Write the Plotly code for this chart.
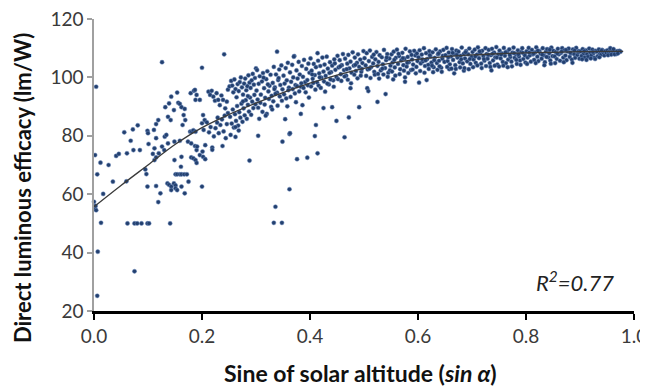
import plotly.graph_objects as go

# ---- measured points (sin alpha, direct luminous efficacy lm/W) ----
left_x = [0.000,0.002,0.004,0.003,0.004,0.002,0.006,0.012,0.013,0.007,0.006,0.017,0.027,0.035,0.041,0.046,0.056,0.061,0.060,0.062,
          0.068,0.072,0.073,0.075,0.075,0.080,0.081,0.085,0.088,0.095,0.097,0.099,0.099,0.099,0.100,0.101,0.102,0.109,0.111,0.112,
          0.112,0.115,0.115,0.115,0.115,0.119,0.119,0.120,0.123,0.126,0.126,0.130,0.131,0.132,0.134,0.136,0.137,0.137,0.139,0.139,
          0.141,0.142,0.143,0.143,0.143,0.148,0.148,0.149,0.149,0.151,0.151,0.151,0.154,0.154,0.154,0.156,0.159,0.159,0.159,0.161,
          0.162,0.162,0.162,0.162,0.164,0.166,0.167,0.168,0.168,0.169,0.172,0.174,0.175,0.178,0.179,0.180,0.180,0.181,0.184,0.184,
          0.185,0.187,0.187,0.188,0.188,0.188,0.190,0.190,0.190,0.191,0.196,0.196,0.200,0.200,0.200]
left_y = [57.4,55.0,54.5,56.0,96.8,73.4,66.8,70.8,50.2,40.3,25.2,60.1,70.0,64.3,73.1,73.8,81.2,74.0,64.4,50.0,
          78.3,82.2,75.1,50.0,33.6,50.0,83.6,75.1,50.0,68.5,66.9,62.6,50.0,81.7,80.9,77.2,50.0,73.8,82.0,75.7,
          71.7,72.6,84.0,79.2,62.8,85.4,57.3,74.0,60.3,105.2,76.3,75.1,79.7,89.8,80.3,63.7,86.5,77.4,91.1,63.2,
          50.0,85.4,93.4,62.6,61.4,88.8,63.7,78.0,71.7,66.8,63.0,62.0,94.8,66.8,61.4,91.3,90.9,78.3,66.8,69.4,
          89.8,72.8,66.8,62.6,83.7,87.1,66.8,89.2,60.3,85.4,66.8,78.0,64.3,81.4,94.6,77.4,72.6,81.4,81.9,72.3,
          95.4,76.5,95.7,92.3,81.4,71.7,94.0,75.1,70.7,76.3,73.4,92.3,103.3,62.6,84.3]

mid_x = [0.202,0.205,0.209,0.203,0.206,0.201,0.202,0.206,0.212,0.215,0.218,0.221,0.224,0.227,0.230,0.233,0.236,0.239,0.243,0.246,
         0.248,0.213,0.216,0.219,0.222,0.225,0.228,0.231,0.234,0.237,0.238,0.240,0.242,0.244,0.246,0.248,0.241,0.219,0.229,
         0.251,0.254,0.256,0.258,0.260,0.262,0.264,0.266,0.268,0.270,0.272,0.274,0.276,0.278,0.280,0.282,0.284,0.286,0.288,0.290,
         0.292,0.294,0.296,0.298,0.252,0.255,0.257,0.259,0.261,0.263,0.265,0.267,0.269,0.271,0.273,0.275,0.277,0.279,0.281,0.283,
         0.285,0.287,0.289,0.291,0.293,0.295,0.297,0.299,0.253,0.262,0.268,0.288,0.262,0.276,0.285,
         0.300,0.302,0.304,0.301,0.303,0.305,0.307,0.309,0.311,0.313,0.315,0.317,0.319,0.321,0.323,0.325,0.327,0.329,0.331,0.333,
         0.335,0.337,0.339,0.341,0.343,0.345,0.347,0.349,0.304,0.308,0.312,0.316,0.320,0.324,0.328,0.332,0.336,0.340,0.344,0.348,
         0.306,0.318,0.330,0.339,0.336,0.333,0.348,0.349,0.342,0.334,0.322,0.314,
         0.351,0.353,0.355,0.357,0.359,0.361,0.363,0.365,0.367,0.369,0.371,0.370,0.373,0.375,0.377,0.379,0.381,0.383,0.385,0.387,
         0.389,0.391,0.393,0.395,0.397,0.399,0.352,0.356,0.360,0.364,0.368,0.372,0.376,0.380,0.384,0.388,0.392,0.396,0.362,0.354,
         0.362,0.376,0.395,0.386,0.383,0.363,0.358,0.374,0.398]
mid_y = [87.1,85.4,84.6,82.0,76.8,74.6,72.8,72.0,95.1,94.0,95.4,93.4,92.0,94.6,92.3,90.5,93.8,92.3,89.4,91.7,
         95.8,81.2,83.0,76.0,79.8,82.6,84.5,80.9,83.7,85.6,76.5,81.5,86.9,79.2,84.0,87.8,107.9,75.2,86.2,
         96.9,98.8,97.2,94.9,99.3,96.0,93.2,97.7,95.3,98.4,100.0,96.6,94.1,97.9,99.6,95.6,97.0,100.7,98.2,96.4,
         99.0,101.2,97.5,99.8,86.5,84.2,89.0,82.8,87.4,85.1,90.2,83.5,88.1,86.2,91.0,84.8,89.4,87.0,92.2,85.8,
         90.6,88.3,93.1,87.2,91.7,89.5,94.0,90.8,80.3,79.6,81.8,71.5,83.0,91.8,93.6,
         103.1,102.5,80.0,95.5,92.4,97.8,100.4,94.1,98.6,101.5,96.3,93.0,99.4,102.1,95.2,97.1,100.9,93.7,98.1,103.6,
         96.6,101.0,94.8,99.1,102.7,97.4,104.1,95.9,89.6,91.3,88.2,90.7,87.5,92.6,89.9,91.8,94.4,90.3,93.5,92.0,
         85.8,86.9,89.0,108.8,55.7,50.2,50.2,78.0,99.8,96.0,97.6,99.9,
         100.6,97.9,103.2,99.0,105.0,96.5,101.7,98.5,104.3,100.0,107.3,107.1,97.4,102.4,99.6,105.3,101.0,96.8,103.9,100.2,
         106.0,98.4,102.9,99.1,104.7,101.6,94.2,92.8,95.6,93.3,96.0,94.5,97.0,95.2,98.0,96.4,94.9,97.3,80.6,85.7,
         61.7,72.0,72.5,90.5,87.5,80.9,90.1,91.5,93.1]

upper_x = [0.401,0.403,0.405,0.407,0.409,0.411,0.413,0.414,0.415,0.417,0.419,0.421,0.423,0.425,0.427,0.429,0.431,0.433,0.435,0.437,
           0.439,0.441,0.443,0.445,0.447,0.449,0.402,0.406,0.410,0.416,0.420,0.426,0.432,0.438,0.444,0.411,0.409,0.414,0.425,0.441,
           0.449,0.428,0.404,0.418,0.436,0.446,
           0.451,0.453,0.455,0.457,0.459,0.461,0.463,0.465,0.467,0.469,0.471,0.473,0.475,0.477,0.479,0.481,0.483,0.485,0.487,0.489,
           0.491,0.493,0.495,0.497,0.499,0.452,0.458,0.464,0.470,0.476,0.482,0.488,0.494,0.472,0.464,0.475,0.491,0.456,0.468,0.484,0.496,
           0.501,0.503,0.505,0.507,0.509,0.511,0.513,0.515,0.517,0.519,0.521,0.523,0.525,0.527,0.529,0.531,0.533,0.535,0.537,0.539,
           0.541,0.543,0.545,0.547,0.549,0.506,0.508,0.525,0.540,0.504,0.512,0.520,0.528,0.536,0.544,0.510,0.518,0.526,0.534,0.542,0.548,
           0.551,0.553,0.555,0.557,0.559,0.561,0.563,0.565,0.567,0.569,0.571,0.573,0.575,0.577,0.579,0.581,0.583,0.585,0.587,0.589,
           0.591,0.593,0.595,0.597,0.599,0.554,0.576,0.576,0.596,0.552,0.558,0.566,0.574,0.582,0.590,0.556,0.564,0.572,0.580,0.588,0.598]
upper_y = [106.5,102.3,99.5,104.6,100.8,103.5,98.3,108.3,105.7,101.4,103.9,99.9,106.8,102.0,104.4,100.5,107.1,103.0,97.6,105.2,
           101.8,104.0,99.0,106.2,102.6,100.1,96.9,98.1,95.8,97.2,96.4,98.6,97.9,99.3,96.8,83.7,79.9,74.0,89.5,89.8,
           85.1,95.1,101.0,100.0,101.5,104.8,
           107.4,103.4,105.9,101.1,104.2,108.0,102.5,106.4,100.6,104.7,107.7,103.1,105.4,101.6,108.6,104.0,106.8,102.2,105.0,107.9,
           103.6,106.1,101.9,104.9,109.0,99.4,98.8,100.3,99.2,98.0,100.9,99.7,100.6,86.3,79.5,96.3,89.8,103.8,102.8,104.3,102.9,
           106.6,104.1,108.3,102.7,105.6,109.2,103.5,107.0,104.8,101.9,106.2,108.7,103.9,105.3,107.6,102.4,106.9,104.5,109.4,103.2,
           105.9,108.0,101.6,106.5,104.0,96.3,95.3,91.6,94.3,100.5,99.8,100.9,99.6,101.0,100.2,103.0,107.8,101.2,103.0,106.8,102.4,
           107.9,105.1,108.8,103.4,106.7,109.5,104.6,107.3,102.8,105.8,108.4,104.2,106.4,109.8,103.7,107.0,105.2,108.9,102.5,106.1,
           104.4,109.1,107.5,103.6,105.6,99.3,100.0,98.5,101.4,102.0,100.6,101.1,102.3,101.5,102.7,106.0,108.1,106.6,105.0,107.7,108.2]

high_x = [0.601,0.603,0.605,0.607,0.609,0.611,0.613,0.615,0.617,0.619,0.621,0.623,0.625,0.627,0.629,0.631,0.633,0.635,0.637,0.639,
          0.641,0.643,0.645,0.647,0.649,0.602,0.616,0.604,0.612,0.620,0.628,0.636,0.644,0.608,0.614,0.622,0.630,0.638,0.646,0.626,0.640,
          0.651,0.653,0.655,0.657,0.659,0.661,0.663,0.665,0.667,0.669,0.671,0.673,0.675,0.677,0.679,0.681,0.683,0.685,0.687,0.689,
          0.691,0.693,0.695,0.697,0.699,0.658,0.667,0.685,0.654,0.662,0.670,0.678,0.686,0.694,0.656,0.664,0.672,0.680,0.688,0.696,
          0.701,0.703,0.705,0.707,0.709,0.711,0.713,0.715,0.717,0.719,0.721,0.723,0.725,0.727,0.729,0.731,0.733,0.735,0.737,0.739,
          0.741,0.743,0.745,0.747,0.749,0.702,0.710,0.718,0.726,0.734,0.742,0.750,0.706,0.714,0.722,0.730,0.738,0.746,0.736,
          0.751,0.753,0.755,0.757,0.759,0.761,0.763,0.765,0.767,0.769,0.771,0.773,0.775,0.777,0.779,0.781,0.783,0.785,0.787,0.789,
          0.791,0.793,0.795,0.797,0.799,0.754,0.762,0.770,0.778,0.786,0.794,0.758,0.774,0.790,0.766,0.782,0.798]
high_y = [106.9,109.3,104.8,107.8,105.5,110.0,103.9,108.3,106.3,104.3,109.0,107.1,105.1,108.6,103.5,106.7,109.6,104.9,107.9,105.7,
          108.9,103.3,106.4,109.4,105.3,98.2,99.1,102.2,101.6,102.9,101.8,102.6,101.9,106.2,105.8,107.6,105.9,108.2,107.4,104.0,103.8,
          107.6,110.1,105.6,108.5,104.5,107.2,109.7,106.0,108.0,104.2,109.2,106.8,108.8,105.2,107.4,110.2,104.8,108.1,106.5,109.0,
          105.5,107.9,109.9,104.6,107.0,102.8,101.4,102.3,103.6,103.0,102.9,103.4,103.2,102.8,106.9,108.4,107.7,106.2,108.6,106.3,
          108.7,106.1,109.5,105.0,107.8,110.3,106.6,108.3,104.7,109.1,107.3,105.7,110.0,108.0,106.4,109.4,104.9,107.6,109.8,105.8,
          108.5,106.9,110.4,104.4,107.9,103.5,104.1,103.2,103.9,103.6,104.0,103.7,107.2,108.9,106.3,107.7,108.1,106.8,102.4,
          109.2,106.5,108.2,105.3,110.1,107.4,104.9,108.8,106.1,109.6,107.0,105.4,108.5,110.2,106.7,108.0,104.6,109.3,107.2,105.8,
          108.7,110.0,106.3,108.1,105.1,107.8,108.6,107.7,108.3,107.9,108.4,104.0,103.8,104.3,103.5,106.0,107.5]

top_x = [0.801,0.803,0.805,0.807,0.809,0.811,0.813,0.815,0.817,0.819,0.821,0.823,0.825,0.827,0.829,0.831,0.833,0.835,0.837,0.839,
         0.841,0.843,0.845,0.847,0.849,0.802,0.818,0.834,0.846,0.806,0.814,0.822,0.830,0.838,0.844,
         0.851,0.853,0.855,0.857,0.859,0.861,0.863,0.865,0.867,0.869,0.871,0.873,0.875,0.877,0.879,0.881,0.883,0.885,0.887,0.889,
         0.891,0.893,0.895,0.897,0.899,0.854,0.870,0.886,0.858,0.866,0.874,0.882,0.890,0.898,
         0.901,0.903,0.905,0.907,0.909,0.911,0.913,0.915,0.917,0.919,0.921,0.923,0.925,0.927,0.929,0.931,0.933,0.935,0.937,0.939,
         0.941,0.943,0.945,0.947,0.949,0.904,0.912,0.920,0.928,0.936,0.908,0.924,0.940,
         0.951,0.953,0.955,0.957,0.959,0.961,0.963,0.965,0.967,0.969,0.971,0.973,0.975,0.952,0.958,0.964,0.970,0.956,0.962]
top_y = [108.9,106.8,110.1,107.5,105.4,109.4,107.9,106.0,108.6,110.3,107.1,105.6,109.0,108.1,106.4,110.0,107.6,105.2,108.8,109.7,
         106.9,108.3,105.8,110.2,107.3,104.6,104.9,104.2,104.7,108.5,108.2,109.2,107.8,107.0,109.5,
         109.1,107.2,108.7,106.3,109.8,107.9,105.7,108.4,110.0,106.8,109.3,107.5,105.9,108.9,109.9,107.0,108.2,106.1,109.6,108.0,
         106.7,110.1,107.7,108.6,106.4,104.9,105.2,105.0,108.2,108.8,109.4,108.5,109.2,109.0,
         108.9,107.4,109.7,108.2,106.9,109.3,108.0,107.1,109.9,108.6,107.6,109.5,108.3,106.8,109.1,108.8,107.3,109.6,108.1,107.8,
         109.4,108.5,107.5,109.0,108.4,106.2,106.0,106.5,106.3,106.9,109.0,108.7,109.2,
         109.3,108.6,108.1,109.5,108.9,108.3,109.2,108.7,108.0,109.0,108.5,109.1,108.8,107.6,107.8,107.9,108.2,110.0,109.7]

# ---- trend line ----
trend_x = [0.00,0.05,0.10,0.15,0.20,0.25,0.30,0.35,0.40,0.45,0.50,0.55,0.60,0.65,0.70,0.75,0.80,0.85,0.90,0.95,0.98]
trend_y = [55.7,63.0,70.0,77.0,82.8,87.3,91.2,94.8,98.0,100.8,103.1,104.9,106.2,107.1,107.7,108.1,108.4,108.6,108.8,108.9,108.9]

x_ticks = [0.0, 0.2, 0.4, 0.6, 0.8, 1.0]
x_labels = ["0.0", "0.2", "0.4", "0.6", "0.8", "1.0"]
y_ticks = [20, 40, 60, 80, 100, 120]

all_x = left_x + mid_x + upper_x + high_x + top_x
all_y = left_y + mid_y + upper_y + high_y + top_y

FONT = "Lato"

fig = go.Figure()
fig.add_trace(go.Scatter(
    x=all_x, y=all_y, mode="markers",
    marker=dict(size=4.2, color="#23406f", line=dict(width=0.6, color="rgba(110,140,190,0.8)")),
    showlegend=False, hoverinfo="skip", cliponaxis=False))
fig.add_trace(go.Scatter(
    x=trend_x, y=trend_y, mode="lines", line=dict(color="#3a3a3a", width=1.3, shape="spline"),
    showlegend=False, hoverinfo="skip"))

# R^2 label
fig.add_annotation(x=0.967, y=0.1, xref="paper", yref="paper", xanchor="right", yanchor="middle",
                   text="<i>R<sup>2</sup>=0.77</i>", showarrow=False,
                   font=dict(family=FONT, size=22, color="#222"))
# axis titles placed as annotations for exact position
fig.add_annotation(x=-0.1333, y=0.421, xref="paper", yref="paper", xanchor="center", yanchor="middle",
                   textangle=-90, showarrow=False,
                   text="<b>Direct luminous efficacy (lm/W)</b>",
                   font=dict(family=FONT, size=22, color="#111"))
fig.add_annotation(x=0.4926, y=-0.212, xref="paper", yref="paper", xanchor="center", yanchor="middle",
                   showarrow=False,
                   text="<b>Sine of solar altitude (<i>sin α</i>)</b>",
                   font=dict(family=FONT, size=23, color="#111"))

# the page body adds an 8 px offset, so the figure is 8 px smaller and margins shifted
fig.update_layout(
    width=640, height=379,
    margin=dict(l=86, r=14, t=11, b=76, autoexpand=False),
    paper_bgcolor="white", plot_bgcolor="white",
    font=dict(family=FONT, size=19, color="#333"),
    xaxis=dict(range=[0, 1], tickvals=x_ticks, ticktext=x_labels,
               showline=True, linecolor="black", linewidth=2.5, ticks="outside", ticklen=6, tickwidth=2,
               tickcolor="black", showgrid=False, zeroline=False, automargin=False,
               ticklabeloverflow="allow",
               tickfont=dict(family=FONT, size=19, color="#3a3a3a")),
    yaxis=dict(range=[20, 120], tickvals=y_ticks,
               showline=True, linecolor="#a0a0a0", linewidth=1.5, ticks="outside", ticklen=5, tickwidth=1.5,
               tickcolor="#a0a0a0", showgrid=False, zeroline=False, automargin=False,
               ticklabeloverflow="allow",
               tickfont=dict(family=FONT, size=19, color="#3a3a3a")),
)

fig.write_html("out.html")
